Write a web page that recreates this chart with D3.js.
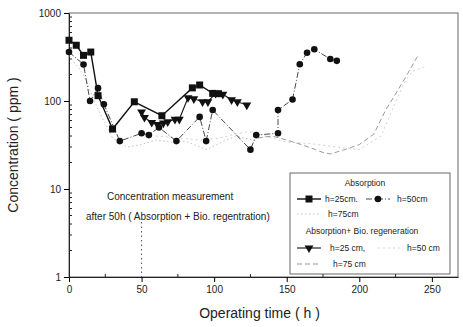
<!DOCTYPE html>
<html>
<head>
<meta charset="utf-8">
<script src="https://cdn.jsdelivr.net/npm/d3@7"></script>
<style>
  body { margin: 0; background: #fff; }
  svg { font-family: 'Liberation Sans', Arial, sans-serif; }
</style>
</head>
<body>
<div class="chart"></div>
<script>
  const width = 463;
  const height = 327;
  const margin = { top: 13, right: 5, bottom: 50, left: 69 };

  // Absorption, h=25cm (squares, solid)
  const absH25 = [[0,490],[5,430],[10,330],[15,360],[20,115],[30,48],[45,98],[64,68],[85,141],[90,152],[99,122],[103,121]];
  // Absorption, h=50cm (circles, dash-dot)
  const absH50 = [[0,360],[10,260],[14.5,100],[20,140],[24,92],[35,35],[50,43],[55,41],[62,50],[74,35],[90,66],[94.5,35],[99,79],[125,28],[129,41],[144,43],[144,79],[154,104],[159,262],[164,354],[169,387],[180,300],[184.5,286]];
  // Absorption, h=75cm (light dotted)
  const absH75 = [[0,330],[10,200],[20,80],[30,38],[40,30],[50,32],[60,36],[70,34],[80,35],[95,28],[105,34],[115,40],[130,35]];
  // Absorption + Bio regeneration, h=25cm (triangles, solid)
  const regH25 = [[50,75],[52,65],[57,57],[61,54],[65,56],[68,58],[73,62],[76,62],[82,109],[86,106],[92,98],[95.7,98],[101,122],[106,119],[112,103],[116,98],[122.5,90]];
  // Absorption + Bio regeneration, h=50cm (very light)
  const regH50 = [[50,45],[60,40],[75,38],[90,36],[104,38],[115,42],[124,45],[135,40],[150,34],[165,33],[185,30],[200,28],[215,40],[230,150],[236,215],[245,245]];
  // Absorption + Bio regeneration, h=75cm (dashed grey)
  const regH75 = [[130,38],[140,40],[150,36],[160,32],[170,28],[175,26],[180,25],[190,28],[200,32],[210,42],[218,78],[225,120],[233,200],[240,320]];

  const xTicks = [0, 50, 100, 150, 200, 250];
  const yTicks = [1, 10, 100, 1000];

  const xScale = d3.scaleLinear()
    .domain([0, 268])
    .range([margin.left, width - margin.right]);

  const yScale = d3.scaleLog()
    .domain([1, 1000])
    .range([height - margin.bottom, margin.top]);

  const svg = d3.select('.chart').append('svg')
    .attr('width', width)
    .attr('height', height);

  // frame
  svg.append('rect')
    .attr('x', margin.left)
    .attr('y', margin.top)
    .attr('width', width - margin.right - margin.left)
    .attr('height', height - margin.bottom - margin.top)
    .attr('fill', 'none')
    .attr('stroke', '#444')
    .attr('stroke-width', 0.8);

  // axes
  const xAxis = d3.axisBottom(xScale)
    .tickValues(xTicks)
    .tickSize(5)
    .tickSizeOuter(0)
    .tickPadding(4);

  const gx = svg.append('g')
    .attr('transform', `translate(0, ${height - margin.bottom})`)
    .call(xAxis);
  gx.selectAll('text').style('font-size', '10px').attr('fill', '#222');

  // x minor ticks (inside)
  svg.append('g').selectAll('line')
    .data([25, 75, 125, 175, 225])
    .join('line')
    .attr('x1', d => xScale(d)).attr('x2', d => xScale(d))
    .attr('y1', height - margin.bottom).attr('y2', height - margin.bottom - 3)
    .attr('stroke', '#222');

  const yAxis = d3.axisLeft(yScale)
    .tickValues(yTicks)
    .tickFormat(d3.format('d'))
    .tickSize(5)
    .tickSizeOuter(0)
    .tickPadding(3);

  const gy = svg.append('g')
    .attr('transform', `translate(${margin.left}, 0)`)
    .call(yAxis);
  gy.selectAll('text').style('font-size', '10px').attr('fill', '#222');

  // y minor ticks (inside)
  const minor = [];
  for (let dec = 1; dec < 1000; dec *= 10) {
    for (let k = 2; k <= 9; k++) minor.push(dec * k);
  }
  svg.append('g').selectAll('line')
    .data(minor)
    .join('line')
    .attr('x1', margin.left).attr('x2', margin.left + 3)
    .attr('y1', d => yScale(d)).attr('y2', d => yScale(d))
    .attr('stroke', '#222');

  svg.selectAll('.domain').attr('stroke', '#222');

  // axis titles
  svg.append('text')
    .attr('x', (margin.left + 458) / 2 - 4)
    .attr('y', 318)
    .attr('text-anchor', 'middle')
    .style('font-size', '14px')
    .attr('fill', '#222')
    .text('Operating time  ( h )');

  svg.append('text')
    .attr('transform', `translate(18, ${(margin.top + height - margin.bottom) / 2}) rotate(-90)`)
    .attr('text-anchor', 'middle')
    .style('font-size', '14px')
    .attr('fill', '#222')
    .text('Concentration  ( ppm )');

  const line = d3.line()
    .x(d => xScale(d[0]))
    .y(d => yScale(d[1]));

  // faint series first
  svg.append('path').datum(absH75)
    .attr('d', line).attr('fill', 'none')
    .attr('stroke', '#bbb').attr('stroke-width', 0.9)
    .attr('stroke-dasharray', '1.5,2.5');

  svg.append('path').datum(regH50)
    .attr('d', line).attr('fill', 'none')
    .attr('stroke', '#ccc').attr('stroke-width', 0.9)
    .attr('stroke-dasharray', '2,3');

  svg.append('path').datum(regH75)
    .attr('d', line).attr('fill', 'none')
    .attr('stroke', '#999').attr('stroke-width', 1)
    .attr('stroke-dasharray', '5,3');

  // circles (h=50 absorption)
  svg.append('path').datum(absH50)
    .attr('d', line).attr('fill', 'none')
    .attr('stroke', '#333').attr('stroke-width', 0.9)
    .attr('stroke-dasharray', '6,2,1,2');

  svg.append('g').selectAll('circle')
    .data(absH50)
    .join('circle')
    .attr('cx', d => xScale(d[0]))
    .attr('cy', d => yScale(d[1]))
    .attr('r', 3.3)
    .attr('fill', '#111');

  // triangles (h=25 regeneration)
  svg.append('path').datum(regH25)
    .attr('d', line).attr('fill', 'none')
    .attr('stroke', '#222').attr('stroke-width', 1.2);

  const tri = d3.symbol().type(d3.symbolTriangle).size(34);
  svg.append('g').selectAll('path')
    .data(regH25)
    .join('path')
    .attr('d', tri)
    .attr('transform', d => `translate(${xScale(d[0])}, ${yScale(d[1])}) rotate(180)`)
    .attr('fill', '#111');

  // squares (h=25 absorption)
  svg.append('path').datum(absH25)
    .attr('d', line).attr('fill', 'none')
    .attr('stroke', '#111').attr('stroke-width', 1.4);

  svg.append('g').selectAll('rect')
    .data(absH25)
    .join('rect')
    .attr('x', d => xScale(d[0]) - 3.5)
    .attr('y', d => yScale(d[1]) - 3.5)
    .attr('width', 7)
    .attr('height', 7)
    .attr('fill', '#111');

  // annotation
  const x50 = xScale(50);
  svg.append('line')
    .attr('x1', x50).attr('x2', x50)
    .attr('y1', 222).attr('y2', height - margin.bottom)
    .attr('stroke', '#555')
    .attr('stroke-dasharray', '1.5,3');

  svg.append('text')
    .attr('x', 107).attr('y', 200)
    .style('font-size', '10px').attr('fill', '#222')
    .text('Concentration measurement');
  svg.append('text')
    .attr('x', 86).attr('y', 220)
    .style('font-size', '10px').attr('fill', '#222')
    .text('after 50h ( Absorption + Bio. regentration)');

  // legend
  const lg = svg.append('g').style('font-size', '8.5px').attr('fill', '#222');
  lg.append('rect')
    .attr('x', 290).attr('y', 173)
    .attr('width', 160).attr('height', 101)
    .attr('fill', '#fff')
    .attr('stroke', '#444').attr('stroke-width', 0.8);

  lg.append('text').attr('x', 365).attr('y', 186).attr('text-anchor', 'middle').text('Absorption');
  lg.append('text').attr('x', 362).attr('y', 234).attr('text-anchor', 'middle').text('Absorption+ Bio. regeneration');

  function legendLine(x, y, stroke, sw, dash) {
    lg.append('line')
      .attr('x1', x).attr('x2', x + 24)
      .attr('y1', y).attr('y2', y)
      .attr('stroke', stroke).attr('stroke-width', sw)
      .attr('stroke-dasharray', dash);
  }

  // row 1
  legendLine(297, 199, '#111', 1.4, null);
  lg.append('rect').attr('x', 305.5).attr('y', 195.5).attr('width', 7).attr('height', 7).attr('fill', '#111');
  lg.append('text').attr('x', 325).attr('y', 202).text('h=25cm.');
  legendLine(366, 199, '#333', 0.9, '6,2,1,2');
  lg.append('circle').attr('cx', 378).attr('cy', 199).attr('r', 3.3).attr('fill', '#111');
  lg.append('text').attr('x', 397).attr('y', 202).text('h=50cm');

  // row 2
  legendLine(297, 214, '#bbb', 0.9, '1.5,2.5');
  lg.append('text').attr('x', 328).attr('y', 217).text('h=75cm');

  // row 3
  legendLine(297, 248, '#222', 1.2, null);
  lg.append('path').attr('d', tri).attr('transform', 'translate(309, 248) rotate(180)').attr('fill', '#111');
  lg.append('text').attr('x', 330).attr('y', 251).text('h=25 cm,');
  legendLine(378, 248, '#ccc', 0.9, '2,3');
  lg.append('text').attr('x', 407).attr('y', 251).text('h=50 cm');

  // row 4
  legendLine(297, 264, '#999', 1, '5,3');
  lg.append('text').attr('x', 333).attr('y', 267).text('h=75 cm');
</script>
</body>
</html>
